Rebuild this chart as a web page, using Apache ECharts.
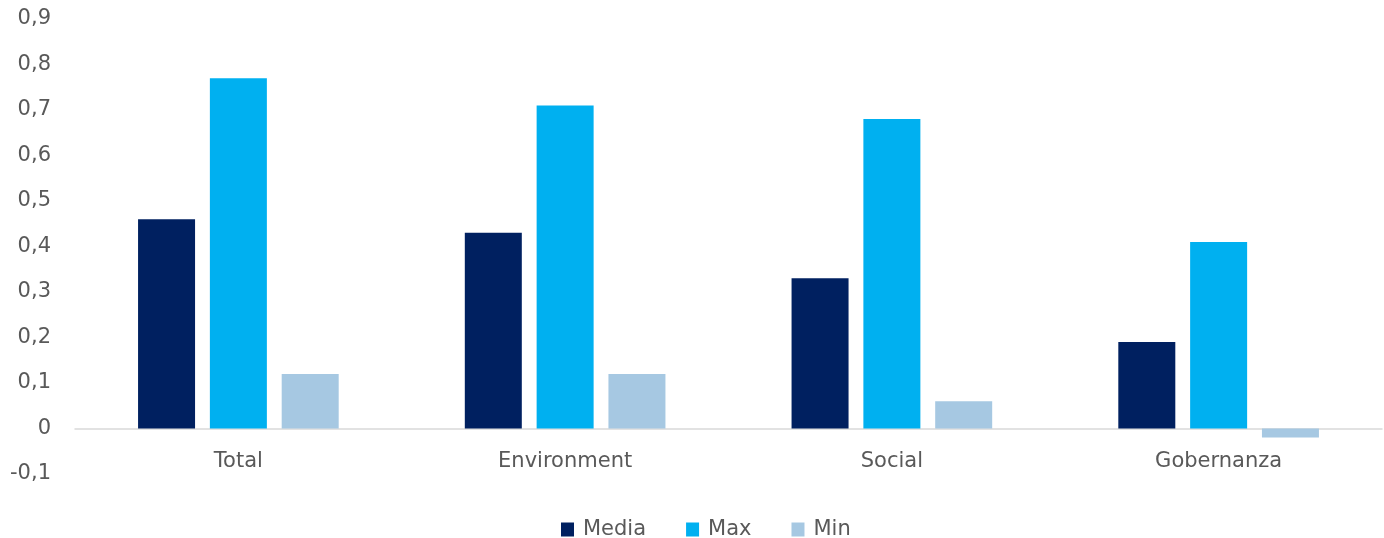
<!DOCTYPE html>
<html>
<head>
<meta charset="utf-8">
<script src="https://cdn.jsdelivr.net/npm/echarts@6/dist/echarts.min.js"></script>
<style>
html,body{margin:0;padding:0;background:#fff;}
#chart{width:1384px;height:538px;}
</style>
</head>
<body>
<div id="chart"></div>
<script>
const categories = ['Total', 'Environment', 'Social', 'Gobernanza'];
const mediaValues = [0.46, 0.43, 0.33, 0.19];
const maxValues = [0.77, 0.71, 0.68, 0.41];
const minValues = [0.12, 0.12, 0.06, -0.02];
const seriesNames = ['Media', 'Max', 'Min'];

const chart = echarts.init(document.getElementById('chart'));
const fontFamily = '"DejaVu Sans", sans-serif';
chart.setOption({
  animation: false,
  textStyle: { fontFamily: fontFamily },
  grid: { left: 75, right: 2, top: 19, bottom: 64 },
  legend: {
    data: seriesNames,
    top: 514,
    left: 556,
    itemWidth: 13,
    itemHeight: 14,
    itemGap: 40,
    icon: 'rect',
    textStyle: { fontSize: 21, color: '#595959', fontFamily: fontFamily, padding: [0, 0, 0, 4] }
  },
  xAxis: {
    type: 'category',
    data: categories,
    axisLine: { onZero: true, lineStyle: { color: '#d9d9d9', width: 1.5 } },
    axisTick: { show: false },
    axisLabel: { fontSize: 21, color: '#595959', margin: -23, fontFamily: fontFamily },
    splitLine: { show: false }
  },
  yAxis: {
    type: 'value',
    min: -0.1,
    max: 0.9,
    interval: 0.1,
    axisLine: { show: false },
    axisTick: { show: false },
    splitLine: { show: false },
    axisLabel: {
      fontSize: 21,
      color: '#595959',
      margin: 24,
      fontFamily: fontFamily,
      formatter: function (v) {
        const r = Math.round(v * 10) / 10;
        if (r === 0) return '0';
        return r.toFixed(1).replace('.', ',');
      }
    }
  },
  series: [
    { name: 'Media', type: 'bar', data: mediaValues, barWidth: 57, barGap: '26%', itemStyle: { color: '#002060' } },
    { name: 'Max', type: 'bar', data: maxValues, barWidth: 57, barGap: '26%', itemStyle: { color: '#00B0F0' } },
    { name: 'Min', type: 'bar', data: minValues, barWidth: 57, barGap: '26%', itemStyle: { color: '#A6C8E2' } }
  ]
});
</script>
</body>
</html>
